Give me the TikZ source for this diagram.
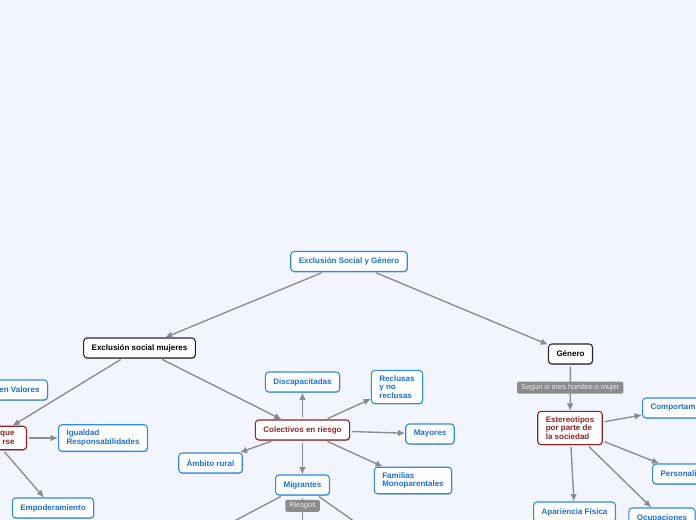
\documentclass[tikz,border=0pt]{standalone}
\usepackage{fontspec}
\setmainfont{Liberation Sans}
\usetikzlibrary{arrows.meta,positioning,shadows}
\definecolor{paper}{HTML}{F2F5FE}
\definecolor{topic}{HTML}{2C8BE6}
\definecolor{topictext}{HTML}{1C6FD3}
\definecolor{risk}{HTML}{8E2323}
\definecolor{linkgray}{HTML}{8A8B90}
\definecolor{tagfill}{HTML}{8C8C8C}

\begin{document}
\begin{tikzpicture}[x=0.75pt,y=-0.75pt,
    box/.style={draw,fill=white,rounded corners=2.5pt,line width=0.8pt,
      font=\fontsize{6}{6.3}\selectfont\bfseries,align=left,
      inner xsep=6pt,inner ysep=4pt,minimum height=15pt,
      drop shadow={shadow xshift=0.5pt,shadow yshift=-0.6pt,fill=black,opacity=0.25}},
    leaf/.style={box,draw=topic,text=topictext},
    hub/.style={box,draw=risk,text=risk},
    main/.style={box,draw=black!85,text=black},
    tag/.style={fill=tagfill,text=white!92!black,rounded corners=1pt,
      font=\fontsize{5.5}{6}\selectfont,inner xsep=3pt,inner ysep=1.5pt,minimum height=9pt},
    link/.style={draw=linkgray,line width=1pt,shorten <=1.5pt,
      -{Latex[length=5.5pt,width=5pt]}}]
        \useasboundingbox (0,0) rectangle (696,520);
        \fill[paper] (0,0) rectangle (696,520);
        \clip (0,0) rectangle (696,520);

        \path
        (349,261.5) node[leaf](root) {Exclusión Social y Género}
        (139.5,348) node[main](mujeres) {Exclusión social mujeres}
        (570.5,354) node[main](genero) {Género}
        (302.5,382) node[leaf](discap) {Discapacitadas}
        (397,387) node[leaf](reclusas) {Reclusas\\y no\\reclusas}
        (302.5,430) node[hub](colect) {Colectivos en riesgo}
        (430,434) node[leaf](mayores) {Mayores}
        (210.5,463) node[leaf](rural) {Ámbito rural}
        (413,480.5) node[leaf](familias) {Familias\\Monoparentales}
        (302.5,485) node[leaf](mig) {Migrantes}
        (48,390) node[leaf,anchor=east](valores) {en Valores}
        (27,438) node[hub,anchor=east,inner xsep=9pt,text width=33pt,align=right](fomento) {que\\rse}
        (103,438) node[leaf](igualdad) {Igualdad\\Responsabilidades}
        (53,508) node[leaf](empod) {Empoderamiento}
        (570,428) node[hub](estereo) {Estereotipos\\por parte de\\la sociedad}
        (642,408) node[leaf,anchor=west,text width=45pt](comport) {Comportam}
        (652,474) node[leaf,anchor=west,text width=38pt](personal) {Personali}
        (574.5,512) node[leaf](aparien) {Apariencia Física}
        (662,518) node[leaf](ocupa) {Ocupaciones}
        ;
        \coordinate (migA) at (170,555);
        \coordinate (migB) at (302.5,560);
        \coordinate (migC) at (402,555);

        \draw[link] (root) -- (mujeres);
        \draw[link] (root) -- (genero);
        \draw[link] (mujeres) -- (colect);
        \draw[link] (mujeres) -- (fomento);
        \draw[link] (colect) -- (discap);
        \draw[link] (colect) -- (reclusas);
        \draw[link] (colect) -- (mayores);
        \draw[link] (colect) -- (rural);
        \draw[link] (colect) -- (mig);
        \draw[link] (colect) -- (familias);
        \draw[link] (fomento) -- (igualdad);
        \draw[link] (fomento) -- (empod);
        \draw[link] (genero) -- node[tag](segun) {Según si eres hombre o mujer} (estereo);
        \draw[link] (estereo) -- (comport);
        \draw[link] (estereo) -- (personal);
        \draw[link] (estereo) -- (aparien);
        \draw[link] (estereo) -- (ocupa);
        \draw[link] (mig) -- (migA);
        \draw[link] (mig) -- (migB);
        \draw[link] (mig) -- (migC);
        \node[tag,below=3pt of mig](riesgos) {Riesgos};
      \end{tikzpicture}
\end{document}
